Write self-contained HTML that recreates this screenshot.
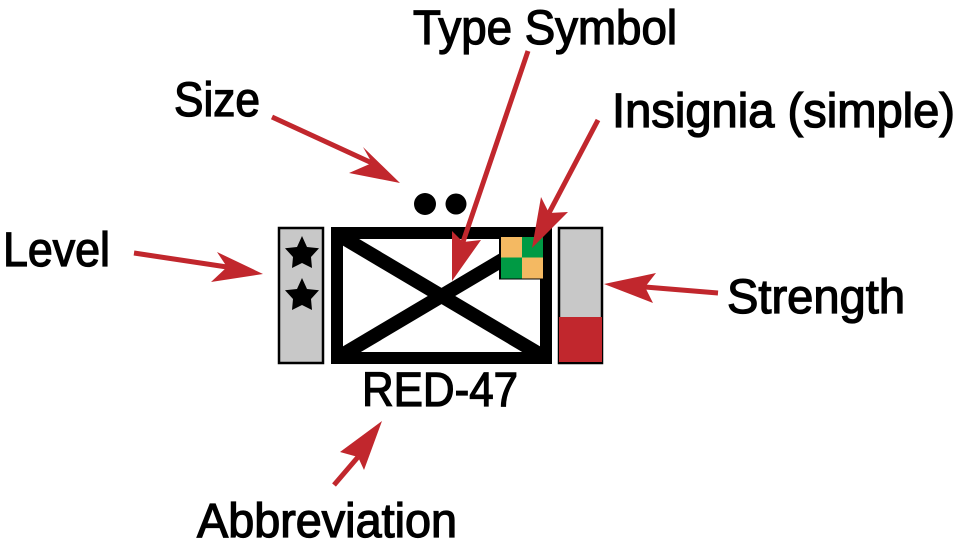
<!DOCTYPE html>
<html><head><meta charset="utf-8"><style>
html,body{margin:0;padding:0;background:#fff;width:958px;height:549px;overflow:hidden}
svg{display:block}
text{font-family:"Liberation Sans",sans-serif;font-size:48px;fill:#000;stroke:#000;stroke-width:1.3;}
</style></head><body>
<svg width="958" height="549" viewBox="0 0 958 549" xmlns="http://www.w3.org/2000/svg">
<rect width="958" height="549" fill="#fff"/>
<!-- level -->
<rect x="279" y="228" width="44" height="135" fill="#c8c8c8" stroke="#000" stroke-width="2.500"/>
<polygon points="302,236 307,247 319,248.300 311,257 312,268 302,263 292,268 293,257 285,248.300 297,247" fill="#000"/>
<polygon points="302,278 307,289 319,290.300 311,299 312,310 302,305 292,310 293,299 285,290.300 297,289" fill="#000"/>
<!-- main -->
<rect x="337" y="233" width="209" height="125" fill="#fff" stroke="#000" stroke-width="12"/>
<line x1="337" y1="234" x2="546" y2="358" stroke="#000" stroke-width="14"/>
<line x1="337" y1="358" x2="546" y2="234" stroke="#000" stroke-width="14"/>
<!-- insignia -->
<rect x="499" y="236" width="44" height="43.500" fill="#000"/>
<rect x="501" y="237" width="21" height="20.500" fill="#f4b962"/>
<rect x="522" y="237" width="21" height="20.500" fill="#009a44"/>
<rect x="501" y="257.500" width="21" height="21" fill="#009a44"/>
<rect x="522" y="257.500" width="21" height="21" fill="#f4b962"/>
<!-- strength -->
<rect x="559" y="228" width="43" height="135" fill="#c8c8c8" stroke="#000" stroke-width="2.500"/>
<rect x="559" y="317" width="43" height="45" fill="#c1272d"/>
<!-- dots -->
<circle cx="425" cy="204" r="11" fill="#000"/>
<circle cx="456" cy="204" r="10.500" fill="#000"/>
<!-- arrows -->
<g fill="#c1272d" stroke="none">
<g stroke="#c1272d" stroke-width="5" fill="none">
<line x1="272" y1="117" x2="372" y2="163"/>
<line x1="134" y1="253" x2="227" y2="267"/>
<line x1="334" y1="485" x2="358" y2="457"/>
<line x1="528" y1="51" x2="463" y2="242"/>
<line x1="598" y1="120" x2="549" y2="213"/>
<line x1="718" y1="293" x2="645" y2="287"/>
</g>
<polygon points="400,183 349,173 372,163 363,147"/>
<polygon points="263,274 211,282 227,267 217,252"/>
<polygon points="382,421 340,452 358,457 364,470"/>
<polygon points="452,281 452,231 463,242 481,240"/>
<polygon points="532,248 541,197 549,213 568,212"/>
<polygon points="604,284 656,273 645,287 653,303"/>
</g>
<!-- labels -->
<text x="413" y="44" textLength="264" lengthAdjust="spacingAndGlyphs">Type Symbol</text>
<text x="612" y="127" textLength="343" lengthAdjust="spacingAndGlyphs">Insignia (simple)</text>
<text x="174" y="116" textLength="86" lengthAdjust="spacingAndGlyphs">Size</text>
<text x="3" y="266" textLength="107" lengthAdjust="spacingAndGlyphs">Level</text>
<text x="727" y="313" textLength="178" lengthAdjust="spacingAndGlyphs">Strength</text>
<text x="362" y="406" textLength="156" lengthAdjust="spacingAndGlyphs">RED-47</text>
<text x="197" y="537" textLength="260" lengthAdjust="spacingAndGlyphs">Abbreviation</text>
</svg>
</body></html>
